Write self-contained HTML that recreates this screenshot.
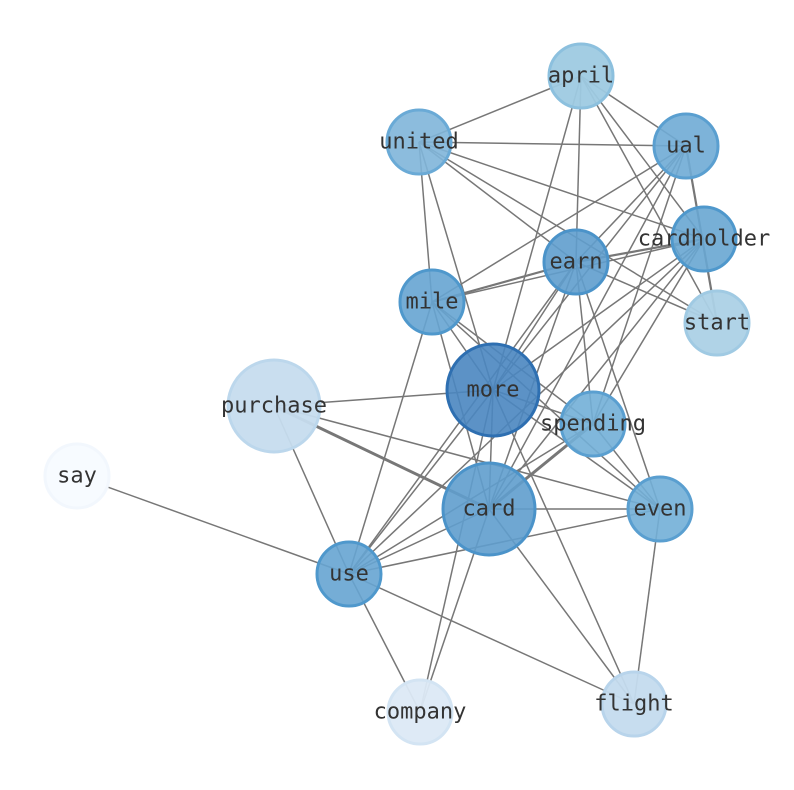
<!DOCTYPE html>
<html><head><meta charset="utf-8"><style>
html,body{margin:0;padding:0;background:#fff;}
svg{display:block;}
text{font-family:"DejaVu Sans Mono","Liberation Mono",monospace;font-size:22px;fill:#333;text-anchor:middle;dominant-baseline:central;}
</style></head><body>
<svg width="794" height="790" viewBox="0 0 794 790" xmlns="http://www.w3.org/2000/svg">
<g stroke="#777" stroke-width="1.5" fill="none">
<line x1="581" y1="76" x2="419" y2="142"/>
<line x1="581" y1="76" x2="686" y2="146"/>
<line x1="581" y1="76" x2="576" y2="262"/>
<line x1="581" y1="76" x2="493" y2="390"/>
<line x1="581" y1="76" x2="704" y2="239"/>
<line x1="581" y1="76" x2="717" y2="323"/>
<line x1="419" y1="142" x2="686" y2="146"/>
<line x1="419" y1="142" x2="704" y2="239"/>
<line x1="419" y1="142" x2="717" y2="323"/>
<line x1="419" y1="142" x2="576" y2="262"/>
<line x1="419" y1="142" x2="432" y2="302"/>
<line x1="419" y1="142" x2="493" y2="390"/>
<line x1="686" y1="146" x2="432" y2="302"/>
<line x1="686" y1="146" x2="576" y2="262"/>
<line x1="686" y1="146" x2="493" y2="390"/>
<line x1="686" y1="146" x2="489" y2="509"/>
<line x1="686" y1="146" x2="593" y2="424"/>
<line x1="686" y1="146" x2="717" y2="323" stroke-width="2.2"/>
<line x1="704" y1="239" x2="576" y2="262" stroke-width="2.2"/>
<line x1="704" y1="239" x2="432" y2="302"/>
<line x1="704" y1="239" x2="493" y2="390"/>
<line x1="704" y1="239" x2="489" y2="509"/>
<line x1="704" y1="239" x2="593" y2="424"/>
<line x1="704" y1="239" x2="349" y2="574"/>
<line x1="576" y1="262" x2="432" y2="302" stroke-width="2.2"/>
<line x1="576" y1="262" x2="493" y2="390"/>
<line x1="576" y1="262" x2="489" y2="509"/>
<line x1="576" y1="262" x2="593" y2="424"/>
<line x1="576" y1="262" x2="660" y2="509"/>
<line x1="576" y1="262" x2="349" y2="574"/>
<line x1="576" y1="262" x2="717" y2="323"/>
<line x1="432" y1="302" x2="493" y2="390"/>
<line x1="432" y1="302" x2="593" y2="424"/>
<line x1="432" y1="302" x2="660" y2="509"/>
<line x1="432" y1="302" x2="489" y2="509"/>
<line x1="432" y1="302" x2="349" y2="574"/>
<line x1="493" y1="390" x2="274" y2="406"/>
<line x1="493" y1="390" x2="489" y2="509"/>
<line x1="493" y1="390" x2="593" y2="424"/>
<line x1="493" y1="390" x2="660" y2="509"/>
<line x1="493" y1="390" x2="634" y2="704"/>
<line x1="493" y1="390" x2="420" y2="712"/>
<line x1="493" y1="390" x2="349" y2="574"/>
<line x1="274" y1="406" x2="489" y2="509" stroke-width="3"/>
<line x1="274" y1="406" x2="660" y2="509"/>
<line x1="274" y1="406" x2="349" y2="574"/>
<line x1="489" y1="509" x2="660" y2="509"/>
<line x1="489" y1="509" x2="349" y2="574"/>
<line x1="489" y1="509" x2="593" y2="424" stroke-width="3"/>
<line x1="489" y1="509" x2="420" y2="712"/>
<line x1="489" y1="509" x2="634" y2="704"/>
<line x1="349" y1="574" x2="77" y2="476"/>
<line x1="349" y1="574" x2="660" y2="509"/>
<line x1="349" y1="574" x2="420" y2="712"/>
<line x1="349" y1="574" x2="634" y2="704"/>
<line x1="349" y1="574" x2="593" y2="424"/>
<line x1="660" y1="509" x2="634" y2="704"/>
<line x1="660" y1="509" x2="593" y2="424"/>
</g>
<g stroke-width="3">
<circle cx="581" cy="76" r="32" fill="#9ecae1" fill-opacity="0.95" stroke="#8cc0de"/>
<circle cx="419" cy="142" r="32" fill="#7fb5d9" fill-opacity="0.9" stroke="#6aaad6"/>
<circle cx="686" cy="146" r="32" fill="#6fabd5" fill-opacity="0.9" stroke="#5a9fd0"/>
<circle cx="704" cy="239" r="32" fill="#68a6d2" fill-opacity="0.9" stroke="#4f98cc"/>
<circle cx="576" cy="262" r="32" fill="#5f9dcd" fill-opacity="0.9" stroke="#4b93c9"/>
<circle cx="432" cy="302" r="32" fill="#66a4d1" fill-opacity="0.9" stroke="#4f98cc"/>
<circle cx="717" cy="323" r="32" fill="#acd1e6" fill-opacity="0.95" stroke="#a0cae3"/>
<circle cx="493" cy="390" r="46" fill="#4a86c0" fill-opacity="0.9" stroke="#2e6fb1"/>
<circle cx="274" cy="406" r="46" fill="#c6dcee" fill-opacity="0.95" stroke="#bcd7ec"/>
<circle cx="593" cy="424" r="32" fill="#72afd7" fill-opacity="0.9" stroke="#5a9fd0"/>
<circle cx="77" cy="476" r="32" fill="#f7fbff" stroke="#f2f7fd"/>
<circle cx="489" cy="509" r="46" fill="#5f9dcd" fill-opacity="0.9" stroke="#4b93c9"/>
<circle cx="660" cy="509" r="32" fill="#72afd7" fill-opacity="0.9" stroke="#5a9fd0"/>
<circle cx="349" cy="574" r="32" fill="#66a4d1" fill-opacity="0.9" stroke="#4f98cc"/>
<circle cx="420" cy="712" r="32" fill="#dce9f5" fill-opacity="0.95" stroke="#d3e4f3"/>
<circle cx="634" cy="704" r="32" fill="#c4dbee" fill-opacity="0.95" stroke="#b8d4eb"/>
</g>
<g>
<text x="581" y="76">april</text>
<text x="419" y="142">united</text>
<text x="686" y="146">ual</text>
<text x="704" y="239">cardholder</text>
<text x="576" y="262">earn</text>
<text x="432" y="302">mile</text>
<text x="717" y="323">start</text>
<text x="493" y="390">more</text>
<text x="274" y="406">purchase</text>
<text x="593" y="424">spending</text>
<text x="77" y="476">say</text>
<text x="489" y="509">card</text>
<text x="660" y="509">even</text>
<text x="349" y="574">use</text>
<text x="420" y="712">company</text>
<text x="634" y="704">flight</text>
</g>
</svg>
</body></html>
